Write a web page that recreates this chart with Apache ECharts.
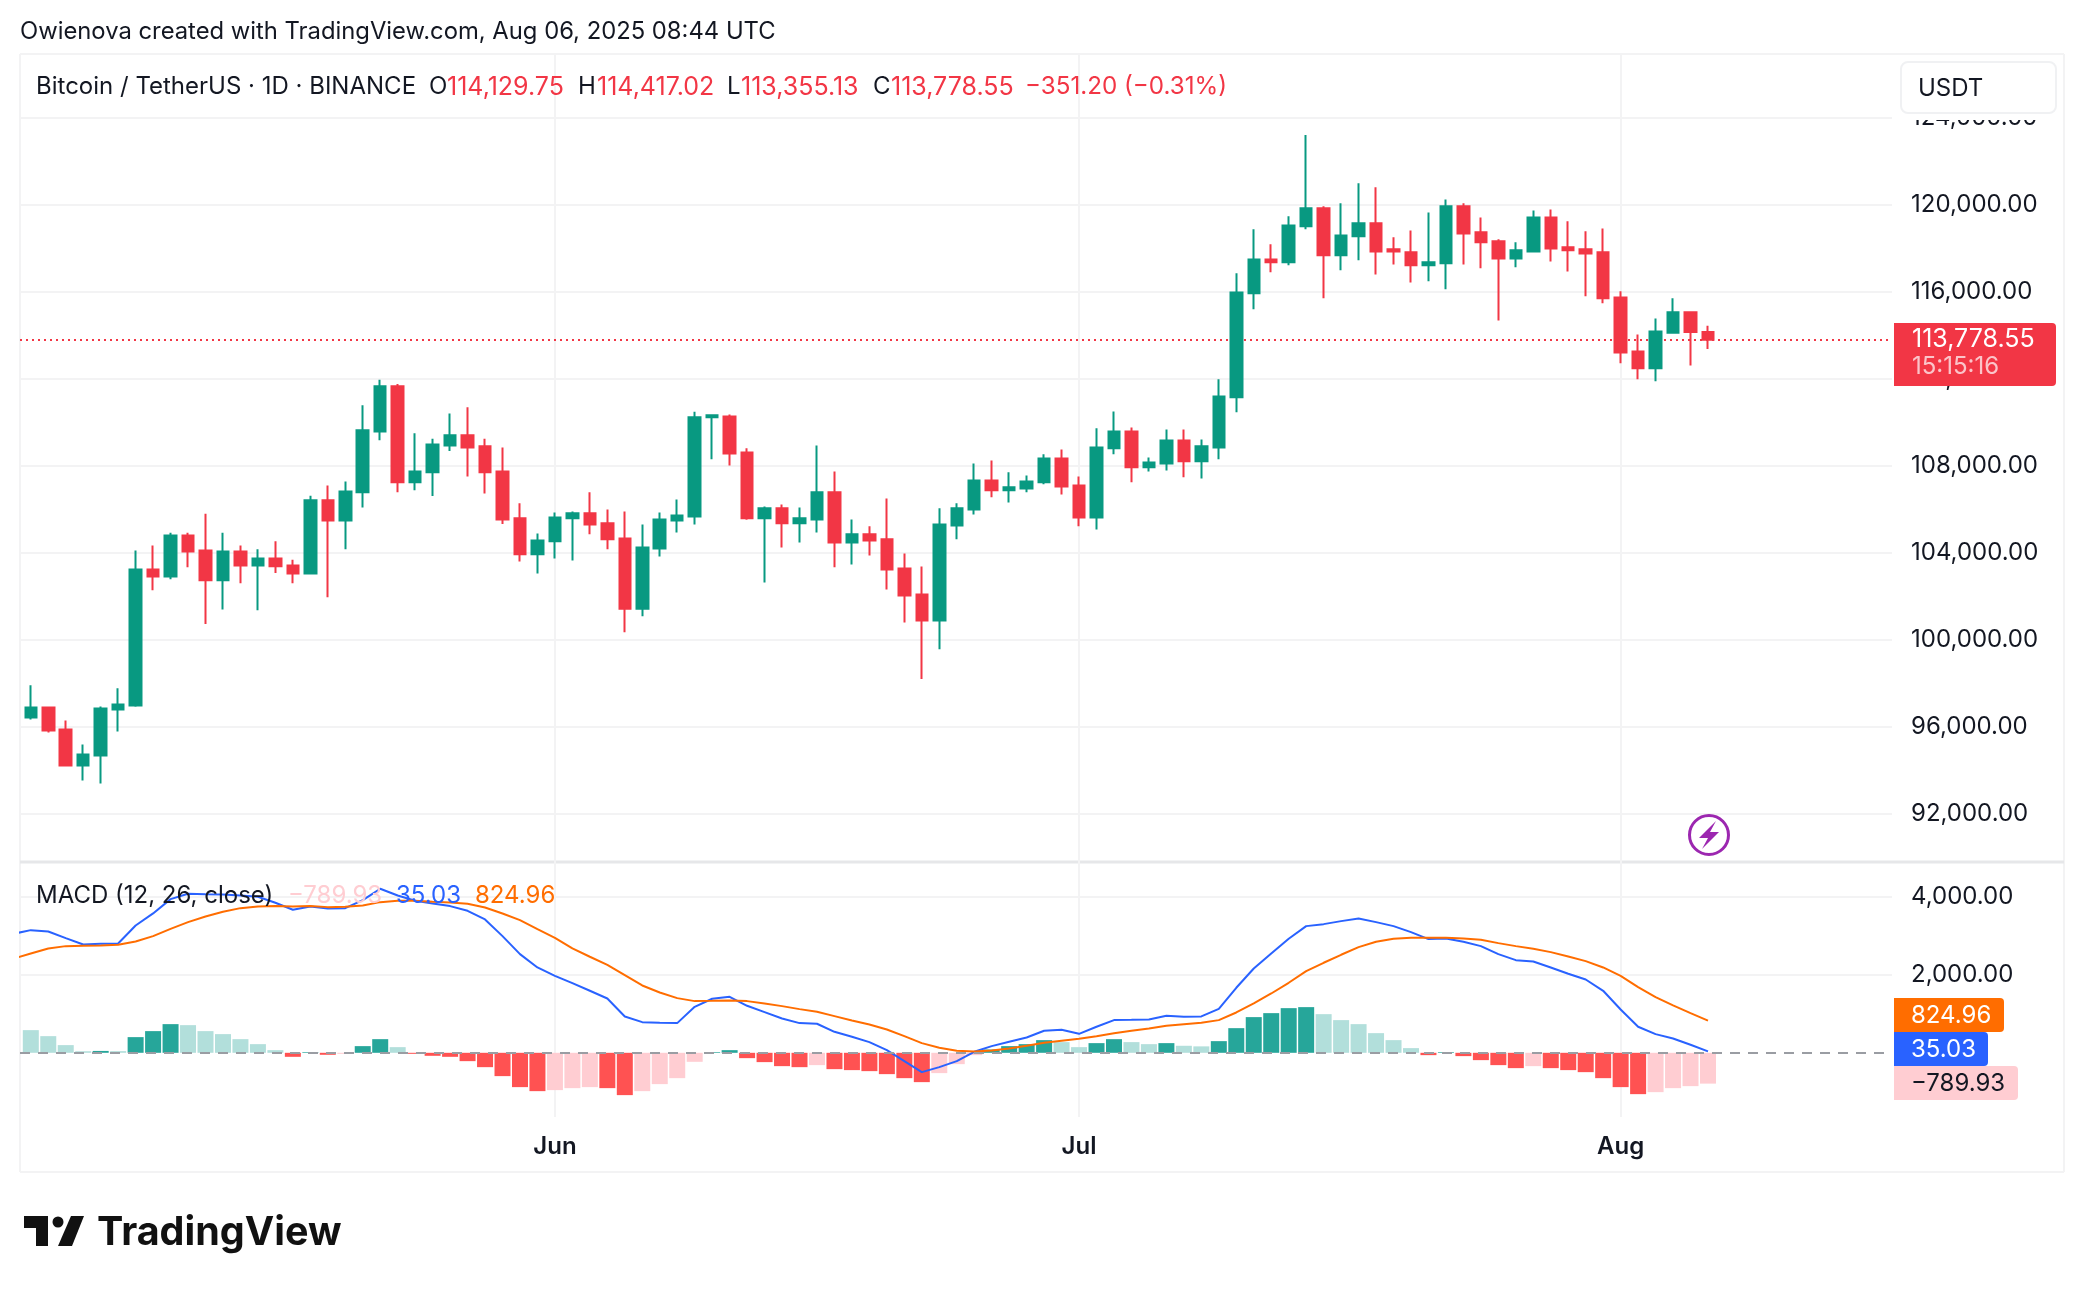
<!DOCTYPE html>
<html>
<head>
<meta charset="utf-8">
<title>BTCUSDT</title>
<style>
html, body { margin: 0; padding: 0; background: #fff; }
#chart { width: 2084px; height: 1292px; }
</style>
<script src="https://cdn.jsdelivr.net/npm/echarts@6/dist/echarts.min.js"></script>
</head>
<body>
<div id="chart"></div>
<script>
// daily candles, May 2 2025 to Aug 6 2025
var opens = [
	96414,96874,95862,94206,94666,96782,96966,103209,102893,104776,
	104089,102717,104037,103403,103720,103403,103033,106395,105462,106765,
	109563,111640,107222,107680,108912,109387,108877,107715,105568,103913,
	104512,105568,105797,105339,104635,101414,104177,105462,105656,110214,
	110249,108595,105568,106025,105339,105515,106765,104459,104829,104600,
	103262,102066,100869,105233,105973,107310,106853,106941,107222,108314,
	107081,105603,108789,109563,107909,108085,109141,108190,108824,111130,
	115917,117466,117342,118997,119824,117659,118539,119138,117941,117800,
	117202,117290,119912,118715,118310,117518,117835,119401,118029,117941,
	117800,115723,113242,112467,114104,115037,114129.75
];
var closes = [
	96874,95816,94206,94712,96828,97012,103209,102893,104776,104037,
	102717,104037,103403,103720,103368,103033,106395,105462,106800,109616,
	111640,107222,107715,108965,109387,108824,107680,105515,103913,104547,
	105603,105797,105286,104600,101414,104230,105515,105691,110214,110302,
	108542,105568,106025,105339,105568,106765,104459,104829,104547,103209,
	102013,100869,105286,106025,107310,106853,106993,107257,108314,107029,
	105603,108824,109563,107909,108138,109141,108190,108877,111165,115952,
	117466,117342,119032,119824,117659,118574,119138,117835,117835,117202,
	117342,119912,118662,118257,117518,117888,119401,117976,117888,117747,
	115688,113189,112467,114157,115037,114129.75,113778.55
];
var lows = [
	96322,95724,94160,93517,93379,95770,96900,102259,102769,103315,
	100710,101379,102576,101344,103051,102576,103000,101942,104142,106061,
	109158,106765,106853,106589,108665,107486,106712,105304,103579,103033,
	103720,103632,104829,104142,100323,101062,103808,104917,105286,108278,
	107997,105500,102611,104230,104459,104917,103315,103438,103861,102294,
	100781,98176,99549,104600,105744,106536,106289,106765,107134,106659,
	105198,105057,108507,107222,107715,107768,107451,107398,108278,110443,
	115177,116885,117202,118856,115688,116973,117430,116779,117237,116410,
	116462,116093,117237,117061,114667,117114,117800,117378,116920,115776,
	115459,112696,111957,111869,114069,112590,113355.13
];
var highs = [
	97886,96920,96276,95172,96920,97748,104089,104318,104899,104899,
	105779,104899,104318,104142,104512,103667,106606,107081,107257,110760,
	111939,111745,109475,109229,110390,110672,109229,108824,106254,104864,
	105832,105885,106765,105973,105885,105286,105832,106430,110461,110337,
	110337,108789,106113,106201,106061,108912,107715,105515,105198,106483,
	103949,103350,106025,106254,108085,108225,107680,107539,108507,108736,
	107486,109704,110478,109739,108366,109651,109651,109194,111957,116832,
	118856,118170,119454,123186,119912,120053,120968,120792,118486,118803,
	119630,120229,120053,119401,118398,118257,119718,119771,119225,118768,
	118891,116005,114016,114755,115688,115090,114417.02
];

// MACD pane
var histValues = [
	581,427,197,40,48,43,402,556,735,709,
	556,479,350,222,68,-103,17,-51,-26,171,
	350,145,-26,-77,-103,-214,-368,-598,-880,-983,
	-957,-906,-880,-906,-1085,-983,-803,-650,-231,17,
	68,-137,-239,-342,-368,-316,-419,-444,-470,-547,
	-650,-752,-521,-291,-60,85,171,222,325,274,
	145,248,350,274,222,248,180,165,299,632,
	915,1017,1145,1171,991,838,735,504,325,120,
	-60,17,-85,-188,-316,-393,-342,-393,-444,-496,
	-650,-880,-1060,-1009,-906,-855,-789.93
];
var macdValues = [
	3145,3111,2940,2778,2795,2803,3265,3573,3940,4077,
	4068,4060,4034,4000,3846,3667,3752,3701,3709,3915,
	4205,4034,3897,3829,3761,3641,3419,2991,2530,2188,
	1974,1786,1590,1393,932,786,769,761,1179,1385,
	1436,1205,1043,880,761,744,538,410,274,68,
	-214,-496,-368,-214,26,171,282,393,564,590,
	487,667,838,846,855,949,923,932,1128,1667,
	2162,2547,2923,3248,3299,3376,3444,3350,3248,3094,
	2915,2932,2846,2735,2530,2376,2342,2188,2026,1880,
	1590,1111,667,479,368,205,35.03
];
var signalValues = [
	2547,2675,2735,2744,2752,2769,2855,2991,3179,3350,
	3496,3615,3709,3752,3761,3752,3761,3735,3744,3778,
	3863,3897,3897,3872,3855,3820,3726,3573,3402,3171,
	2949,2675,2462,2256,1991,1726,1547,1402,1325,1333,
	1342,1325,1265,1197,1120,1051,940,829,726,598,
	427,248,128,51,34,60,111,179,256,308,
	359,427,504,564,624,692,735,769,838,1034,
	1265,1521,1795,2094,2308,2513,2709,2846,2923,2949,
	2949,2949,2932,2897,2812,2735,2667,2581,2470,2350,
	2188,1974,1684,1427,1214,1017,824.96
];
// May 1, only the piece of line inside the left edge shows
var macdMay1 = 3051;
var signalMay1 = 2410;

var priceTicks = [92000, 96000, 100000, 104000, 108000, 112000, 116000, 120000, 124000];
var macdTicks = [2000, 4000];
// day numbers counted from May 2
var monthTicks = [30, 60, 91];
var monthLabels = ['Jun', 'Jul', 'Aug'];

var upColor = '#089981';
var downColor = '#f23645';
var gridColor = '#f3f3f4';
var inkColor = '#131722';
var fontName = 'Inter';

function money(v) {
	return v.toLocaleString('en-US', {minimumFractionDigits: 2, maximumFractionDigits: 2});
}

function signed(v) {
	return v < 0 ? '\u2212' + money(-v) : money(v);
}

var candles = opens.map(function (o, i) { return [i, o, closes[i], lows[i], highs[i]]; });
var last = opens.length - 1;
var change = closes[last] - closes[last - 1];
var changePct = change / closes[last - 1] * 100;

function histColor(i) {
	var v = histValues[i];
	var rising = i > 0 && v > histValues[i - 1];
	if (v >= 0) return rising ? '#26a69a' : '#b2dfdb';
	return rising ? '#ffcdd2' : '#ff5252';
}

function linePoints(first, values) {
	return [[-1, first]].concat(values.map(function (v, i) { return [i, v]; }));
}

function text(x, y, str, color, size, extra) {
	var style = {x: x, y: y, text: str, fill: color, font: (extra || '') + ' ' + size + 'px ' + fontName, textVerticalAlign: 'middle'};
	return {type: 'text', z: 120, silent: true, style: style};
}

function rule(x1, y1, x2, y2, color, w) {
	return {type: 'line', z: 0, silent: true, shape: {x1: x1, y1: y1, x2: x2, y2: y2}, style: {stroke: color, lineWidth: w}};
}

function badge(y, h, w, color) {
	return {type: 'rect', z: 110, silent: true, shape: {x: 1894, y: y, width: w, height: h, r: [0, 4, 4, 0]}, style: {fill: color}};
}

var xMin = -0.618;
var xMax = 106.532;

var chart = echarts.init(document.getElementById('chart'));
chart.setOption({
	animation: false,
	backgroundColor: '#ffffff',
	textStyle: {fontFamily: fontName},
	grid: [
		{left: 20, top: 54, width: 1872, height: 808},
		{left: 20, top: 862, width: 1872, height: 255}
	],
	xAxis: [
		{
			type: 'value', gridIndex: 0, min: xMin, max: xMax,
			axisLine: {show: false},
			axisTick: {show: false, customValues: monthTicks},
			axisLabel: {show: false},
			splitLine: {show: true, lineStyle: {color: gridColor, width: 2}}
		},
		{
			type: 'value', gridIndex: 1, min: xMin, max: xMax,
			axisLine: {show: false},
			axisTick: {show: false, customValues: monthTicks},
			axisLabel: {
				customValues: monthTicks,
				margin: 18,
				color: inkColor,
				fontSize: 24,
				fontWeight: 600,
				fontFamily: fontName,
				formatter: function (v) { return monthLabels[monthTicks.indexOf(v)]; }
			},
			splitLine: {show: true, lineStyle: {color: gridColor, width: 2}}
		}
	],
	yAxis: [
		{
			type: 'value', gridIndex: 0, position: 'right',
			min: 89765, max: 126915,
			axisLine: {show: false},
			axisTick: {show: false, customValues: priceTicks},
			axisLabel: {customValues: priceTicks, margin: 19, padding: [0, 0, 2, 0], color: inkColor, fontSize: 24, fontFamily: fontName, formatter: money},
			splitLine: {show: true, lineStyle: {color: gridColor, width: 2}}
		},
		{
			type: 'value', gridIndex: 1, position: 'right',
			min: -1646, max: 4892,
			axisLine: {show: false},
			axisTick: {show: false, customValues: macdTicks},
			axisLabel: {customValues: macdTicks, margin: 19, padding: [0, 0, 2, 0], color: inkColor, fontSize: 24, fontFamily: fontName, formatter: money},
			splitLine: {show: true, lineStyle: {color: gridColor, width: 2}}
		}
	],
	series: [
		{
			name: 'BTCUSDT',
			type: 'candlestick',
			xAxisIndex: 0,
			yAxisIndex: 0,
			barWidth: 12,
			data: candles,
			encode: {x: 0, y: [1, 2, 3, 4]},
			itemStyle: {color: upColor, color0: downColor, borderColor: upColor, borderColor0: downColor, borderWidth: 2},
			markLine: {
				silent: true,
				symbol: 'none',
				z: 1,
				label: {show: false},
				lineStyle: {color: downColor, type: [2, 4], width: 2},
				data: [{yAxis: closes[last]}]
			}
		},
		{
			name: 'Histogram',
			type: 'bar',
			xAxisIndex: 1,
			yAxisIndex: 1,
			barWidth: 16,
			data: histValues.map(function (v, i) {
				return {value: [i, v], itemStyle: {color: histColor(i)}};
			}),
			markLine: {
				silent: true,
				symbol: 'none',
				label: {show: false},
				lineStyle: {color: '#9a9da3', type: [10, 8], width: 2},
				data: [{yAxis: 0}]
			}
		},
		{
			name: 'MACD',
			type: 'line',
			xAxisIndex: 1,
			yAxisIndex: 1,
			showSymbol: false,
			lineStyle: {color: '#2962ff', width: 2},
			data: linePoints(macdMay1, macdValues)
		},
		{
			name: 'Signal',
			type: 'line',
			xAxisIndex: 1,
			yAxisIndex: 1,
			showSymbol: false,
			lineStyle: {color: '#ff6d00', width: 2},
			data: linePoints(signalMay1, signalValues)
		}
	],
	graphic: {elements: [
		// frame
		rule(20, 54, 2064, 54, gridColor, 2),
		rule(20, 54, 20, 1172, gridColor, 2),
		rule(2064, 54, 2064, 1172, gridColor, 2),
		rule(20, 1172, 2064, 1172, gridColor, 2),
		{type: 'rect', z: 90, silent: true, shape: {x: 1893, y: 55, width: 170, height: 65}, style: {fill: '#fff'}},
		rule(20, 862, 2064, 862, '#e6e7e9', 3),

		// header
		text(20, 32, 'Owienova created with TradingView.com, Aug 06, 2025 08:44 UTC', inkColor, 23.8),
		text(36, 87, 'Bitcoin / TetherUS \u00b7 1D \u00b7 BINANCE', inkColor, 24),
		text(429, 87, 'O', inkColor, 24),
		text(447, 87, money(opens[last]), downColor, 25),
		text(578, 87, 'H', inkColor, 24),
		text(597, 87, money(highs[last]), downColor, 25),
		text(727, 87, 'L', inkColor, 24),
		text(741, 87, money(lows[last]), downColor, 25),
		text(873, 87, 'C', inkColor, 24),
		text(891, 87, money(closes[last]), downColor, 25),
		text(1025, 87, signed(change) + ' (' + signed(changePct) + '%)', downColor, 24.2),

		// currency box
		{type: 'rect', z: 100, silent: true, shape: {x: 1901, y: 62, width: 155, height: 51, r: 7}, style: {fill: '#fff', stroke: '#f0f1f3', lineWidth: 2}},
		text(1918, 89, 'USDT', inkColor, 24),

		// price badge
		badge(323, 63, 162, downColor),
		text(1912, 339, money(closes[last]), '#ffffff', 25),
		text(1912, 367, '15:15:16', '#fbc4c9', 24),

		// MACD badges
		badge(998, 34, 110, '#ff6d00'),
		text(1911, 1016, money(signalValues[last]), '#ffffff', 24),
		badge(1032, 34, 94, '#2962ff'),
		text(1911, 1050, money(macdValues[last]), '#ffffff', 24),
		badge(1066, 34, 124, '#ffcdd2'),
		text(1911, 1084, signed(histValues[last]), inkColor, 24),

		// indicator legend
		text(36, 896, 'MACD (12, 26, close)', inkColor, 24),
		text(288, 896, signed(histValues[last]), '#ffcdd2', 24),
		text(396, 896, money(macdValues[last]), '#2962ff', 24),
		text(475, 896, money(signalValues[last]), '#ff6d00', 24),

		// lightning mark
		{type: 'circle', z: 100, silent: true, shape: {cx: 1709, cy: 835, r: 19.5}, style: {fill: 'none', stroke: '#9c27b0', lineWidth: 3}},
		{type: 'polygon', z: 100, silent: true, shape: {points: [[1716, 821], [1699, 838], [1708, 838], [1702, 849], [1719, 832], [1710, 832]]}, style: {fill: '#9c27b0'}},

		// logo
		{type: 'polygon', z: 100, silent: true, shape: {points: [[24, 1216], [48, 1216], [48, 1246], [36, 1246], [36, 1228], [24, 1228]]}, style: {fill: '#111111'}},
		{type: 'polygon', z: 100, silent: true, shape: {points: [[71, 1216], [84, 1216], [72, 1246], [58, 1246]]}, style: {fill: '#111111'}},
		{type: 'circle', z: 100, silent: true, shape: {cx: 58, cy: 1222, r: 5.5}, style: {fill: '#111111'}},
		text(97, 1233, 'TradingView', '#111111', 39.5, '700')
	]}
});
</script>
</body>
</html>
